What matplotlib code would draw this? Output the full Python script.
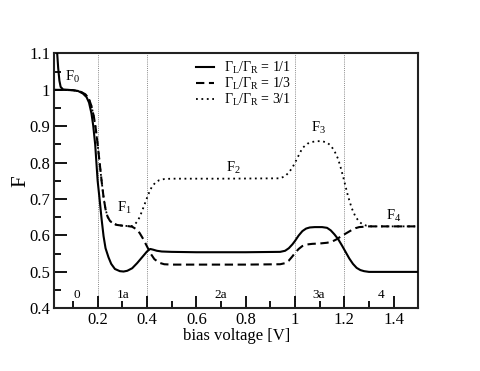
import matplotlib
matplotlib.use("Agg")
import matplotlib.pyplot as plt
from matplotlib.ticker import MultipleLocator

plt.rcParams['font.family'] = ['Liberation Serif', 'DejaVu Serif']
plt.rcParams['mathtext.fontset'] = 'custom'
plt.rcParams['mathtext.rm'] = 'Liberation Serif'
plt.rcParams['mathtext.it'] = 'Liberation Serif:italic'
plt.rcParams['mathtext.bf'] = 'Liberation Serif:bold'

# Solid curve: Gamma_L/Gamma_R = 1/1
x_11 = [0.030, 0.036, 0.040, 0.045, 0.050, 0.060, 0.080, 0.100, 0.120, 0.140, 0.155, 0.165,
        0.175, 0.182, 0.190, 0.195, 0.200, 0.208, 0.216, 0.224, 0.232, 0.244, 0.255, 0.270,
        0.290, 0.305, 0.320, 0.340, 0.360, 0.380, 0.400, 0.413, 0.425, 0.440, 0.460, 0.500,
        0.600, 0.800, 0.940, 0.960, 0.975, 0.990, 1.000, 1.015, 1.030, 1.045, 1.060, 1.080,
        1.110, 1.130, 1.145, 1.160, 1.175, 1.190, 1.205, 1.220, 1.235, 1.250, 1.265, 1.280,
        1.300, 1.350, 1.500]
y_11 = [1.150, 1.100, 1.060, 1.025, 1.008, 1.001, 1.000, 0.999, 0.997, 0.990, 0.980, 0.965,
        0.935, 0.902, 0.850, 0.800, 0.750, 0.699, 0.645, 0.598, 0.565, 0.540, 0.522, 0.508,
        0.502, 0.501, 0.503, 0.510, 0.524, 0.540, 0.556, 0.563, 0.561, 0.558, 0.556, 0.555,
        0.554, 0.554, 0.555, 0.558, 0.565, 0.576, 0.585, 0.600, 0.612, 0.619, 0.622, 0.623,
        0.623, 0.621, 0.614, 0.603, 0.590, 0.573, 0.555, 0.537, 0.522, 0.511, 0.505, 0.502,
        0.500, 0.500, 0.500]

# Dashed curve: Gamma_L/Gamma_R = 1/3
x_13 = [0.025, 0.060, 0.100, 0.130, 0.150, 0.165, 0.175, 0.185, 0.193, 0.200, 0.208, 0.216,
        0.224, 0.232, 0.240, 0.250, 0.262, 0.278, 0.300, 0.320, 0.340, 0.355, 0.370, 0.385,
        0.400, 0.415, 0.430, 0.450, 0.470, 0.500, 0.600, 0.800, 0.940, 0.960, 0.975, 0.990,
        1.000, 1.015, 1.030, 1.045, 1.070, 1.100, 1.130, 1.150, 1.170, 1.185, 1.200, 1.215,
        1.230, 1.245, 1.260, 1.280, 1.300, 1.400, 1.500]
y_13 = [1.000, 1.000, 0.999, 0.995, 0.988, 0.975, 0.955, 0.925, 0.890, 0.850, 0.800, 0.750,
        0.705, 0.672, 0.652, 0.640, 0.633, 0.629, 0.627, 0.626, 0.624, 0.618, 0.607, 0.590,
        0.570, 0.550, 0.535, 0.525, 0.521, 0.520, 0.520, 0.520, 0.521, 0.524, 0.531, 0.543,
        0.552, 0.563, 0.571, 0.575, 0.577, 0.578, 0.580, 0.583, 0.590, 0.597, 0.603, 0.609,
        0.615, 0.620, 0.623, 0.624, 0.625, 0.625, 0.625]

# Dotted curve: Gamma_L/Gamma_R = 3/1
x_31 = [0.025, 0.060, 0.100, 0.130, 0.150, 0.165, 0.175, 0.185, 0.193, 0.200, 0.208, 0.216,
        0.224, 0.232, 0.240, 0.250, 0.262, 0.278, 0.300, 0.320, 0.340, 0.350, 0.360, 0.370,
        0.380, 0.390, 0.400, 0.410, 0.420, 0.435, 0.450, 0.470, 0.500, 0.700, 0.940, 0.960,
        0.975, 0.990, 1.000, 1.015, 1.030, 1.050, 1.070, 1.090, 1.110, 1.130, 1.145, 1.160,
        1.175, 1.185, 1.195, 1.205, 1.215, 1.230, 1.245, 1.260, 1.275, 1.290, 1.310, 1.400,
        1.500]
y_31 = [1.000, 1.000, 0.999, 0.995, 0.988, 0.975, 0.955, 0.925, 0.890, 0.850, 0.800, 0.750,
        0.705, 0.672, 0.652, 0.640, 0.633, 0.629, 0.627, 0.626, 0.626, 0.630, 0.638, 0.650,
        0.667, 0.685, 0.703, 0.720, 0.734, 0.746, 0.752, 0.755, 0.756, 0.756, 0.757, 0.763,
        0.773, 0.787, 0.800, 0.820, 0.840, 0.852, 0.857, 0.859, 0.859, 0.855, 0.847, 0.832,
        0.810, 0.787, 0.762, 0.735, 0.708, 0.675, 0.652, 0.638, 0.630, 0.627, 0.625, 0.625,
        0.625]

region_lines = [0.2, 0.4, 1.0, 1.2]
region_labels = ['0', '1a', '2a', '3a', '4']
region_label_x = [0.115, 0.305, 0.70, 1.097, 1.349]
f_labels = [r'F$_0$', r'F$_1$', r'F$_2$', r'F$_3$', r'F$_4$']
f_label_x = [0.10, 0.31, 0.75, 1.097, 1.40]
f_label_y = [1.035, 0.676, 0.785, 0.895, 0.655]

fig = plt.figure(figsize=(4.8, 3.71), dpi=100)
ax = fig.add_axes([0.1135, 0.169, 0.758, 0.687])

for xv in region_lines:
    ax.axvline(xv, color='#888888', lw=0.7, ls=(0, (1, 1.2)), zorder=1)

ax.plot(x_11, y_11, color='black', lw=1.5, ls='-',
        label=r'$\Gamma_\mathrm{L}/\Gamma_\mathrm{R}$ = 1/1', zorder=3)
ax.plot(x_13, y_13, color='black', lw=1.5, ls=(0, (4, 2.2)),
        label=r'$\Gamma_\mathrm{L}/\Gamma_\mathrm{R}$ = 1/3', zorder=3)
ax.plot(x_31, y_31, color='black', lw=1.3, ls=(0, (1, 2)),
        label=r'$\Gamma_\mathrm{L}/\Gamma_\mathrm{R}$ = 3/1', zorder=2)

for t, xv in zip(region_labels, region_label_x):
    ax.text(xv, 0.437, t, ha='center', va='center', fontsize=9.5)
for t, xv, yv in zip(f_labels, f_label_x, f_label_y):
    ax.text(xv, yv, t, ha='center', va='center', fontsize=10.5)

ax.set_xlim(0.025, 1.5)
ax.set_ylim(0.4, 1.1)
ax.xaxis.set_major_locator(MultipleLocator(0.2))
ax.xaxis.set_minor_locator(MultipleLocator(0.1))
ax.yaxis.set_major_locator(MultipleLocator(0.1))
ax.yaxis.set_minor_locator(MultipleLocator(0.05))
ax.set_xticks([0.2, 0.4, 0.6, 0.8, 1.0, 1.2, 1.4])
ax.set_xticklabels(['0.2', '0.4', '0.6', '0.8', '1', '1.2', '1.4'])
ax.set_yticks([0.4, 0.5, 0.6, 0.7, 0.8, 0.9, 1.0, 1.1])
ax.set_yticklabels(['0.4', '0.5', '0.6', '0.7', '0.8', '0.9', '1', '1.1'])
ax.tick_params(which='both', direction='in', top=False, right=False, labelsize=12, width=1.3)
ax.tick_params(which='major', length=9, pad=3)
ax.tick_params(which='minor', length=5)
for s in ax.spines.values():
    s.set_linewidth(1.5)
    s.set_color('#222222')

ax.set_xlabel('bias voltage [V]', fontsize=12, labelpad=0)
ax.set_ylabel('F', fontsize=15, labelpad=-1)

leg = ax.legend(loc='upper left', bbox_to_anchor=(0.39, 0.975), frameon=False, fontsize=10,
                handlelength=1.3, handletextpad=0.7, labelspacing=0.0, borderpad=0,
                borderaxespad=0)

fig.savefig('out.png', dpi=100)
